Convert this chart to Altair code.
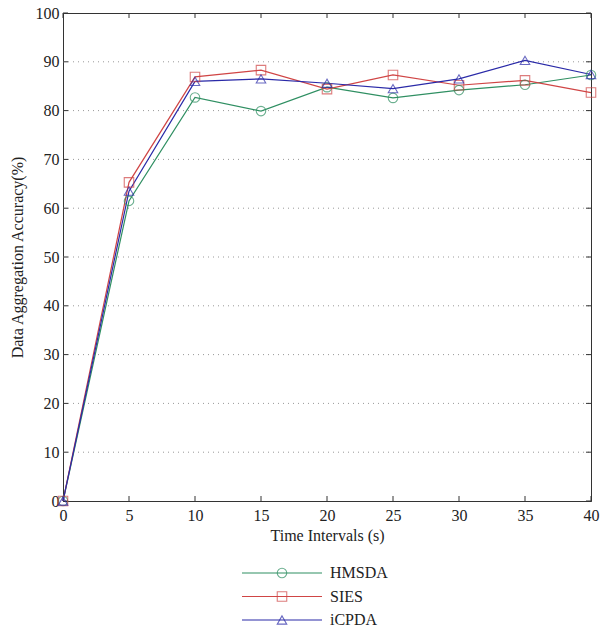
import altair as alt
import pandas as pd

x_vals = [0, 5, 10, 15, 20, 25, 30, 35, 40]
hmsda = [0, 61.5, 82.7, 79.9, 84.8, 82.6, 84.2, 85.3, 87.3]
sies = [0, 65.3, 86.9, 88.3, 84.4, 87.3, 85.2, 86.2, 83.7]
icpda = [0, 63.5, 86.0, 86.5, 85.6, 84.5, 86.5, 90.3, 87.4]
series = ["HMSDA", "SIES", "iCPDA"]
colors = ["#2f8f62", "#d04545", "#2a2aa8"]
shapes = ["circle", "square", "triangle-up"]
x_ticks = [0, 5, 10, 15, 20, 25, 30, 35, 40]
y_ticks = [0, 10, 20, 30, 40, 50, 60, 70, 80, 90, 100]
y_grid = [10, 20, 30, 40, 50, 60, 70, 80, 90]

rows = []
for name, vals in zip(series, [hmsda, sies, icpda]):
    for xv, yv in zip(x_vals, vals):
        rows.append({"t": xv, "acc": yv, "series": name})
df = pd.DataFrame(rows)

W, H = 528, 488
FONT = "Liberation Serif"

xs = alt.Scale(domain=[0, 40], nice=False)
ys = alt.Scale(domain=[0, 100], nice=False)
color = alt.Color("series:N", scale=alt.Scale(domain=series, range=colors), legend=None)
shape = alt.Shape("series:N", scale=alt.Scale(domain=series, range=shapes), legend=None)

xaxis = alt.Axis(values=x_ticks, grid=False, ticks=False, labelFontSize=16, labelFont=FONT,
                 titleFont=FONT, titleFontSize=16, titleFontWeight="normal", labelColor="#222",
                 titleColor="#222", domainColor="#333", labelPadding=6, titlePadding=4,
                 labelFlush=False)
yaxis = alt.Axis(values=y_ticks, grid=False, ticks=False, labelFontSize=16, labelFont=FONT,
                 titleFont=FONT, titleFontSize=16, titleFontWeight="normal", labelColor="#222",
                 titleColor="#222", domainColor="#333", labelPadding=4, titlePadding=10,
                 labelFlush=False)

grid_df = pd.DataFrame({"g": y_grid})
grid = alt.Chart(grid_df).mark_rule(color="#999", strokeDash=[1, 4], strokeWidth=1).encode(
    y=alt.Y("g:Q", scale=ys), x=alt.value(0), x2=alt.value(W))

xt = pd.DataFrame({"v": x_ticks})
yt = pd.DataFrame({"v": y_ticks})
tk = dict(color="#333", strokeWidth=1)
xt_bot = alt.Chart(xt).mark_rule(**tk).encode(x=alt.X("v:Q", scale=xs), y=alt.value(H), y2=alt.value(H - 5))
xt_top = alt.Chart(xt).mark_rule(**tk).encode(x=alt.X("v:Q", scale=xs), y=alt.value(0), y2=alt.value(5))
yt_l = alt.Chart(yt).mark_rule(**tk).encode(y=alt.Y("v:Q", scale=ys), x=alt.value(0), x2=alt.value(5))
yt_r = alt.Chart(yt).mark_rule(**tk).encode(y=alt.Y("v:Q", scale=ys), x=alt.value(W), x2=alt.value(W - 5))

base = alt.Chart(df).encode(
    x=alt.X("t:Q", scale=xs, axis=xaxis, title="Time Intervals (s)"),
    y=alt.Y("acc:Q", scale=ys, axis=yaxis, title="Data Aggregation Accuracy(%)"),
    color=color,
)
lines = base.mark_line(strokeWidth=1.2)
pts = base.mark_point(filled=False, size=90, strokeWidth=1.1).encode(shape=shape)

main = alt.layer(grid, xt_bot, xt_top, yt_l, yt_r, lines, pts).properties(width=W, height=H)

leg_df = pd.DataFrame({"series": series, "idx": [0, 1, 2]})
ly = alt.Y("idx:Q", scale=alt.Scale(domain=[0, 2], range=[15, 62]), axis=None)
lcolor = alt.Color("series:N", scale=alt.Scale(domain=series, range=colors), legend=None)
leg_line = alt.Chart(leg_df).mark_rule(strokeWidth=1.2).encode(
    y=ly, x=alt.value(179), x2=alt.value(259), color=lcolor)
leg_pt = alt.Chart(leg_df).mark_point(filled=False, size=90, strokeWidth=1.1).encode(
    y=ly, x=alt.value(219), color=lcolor,
    shape=alt.Shape("series:N", scale=alt.Scale(domain=series, range=shapes), legend=None))
leg_txt = alt.Chart(leg_df).mark_text(align="left", baseline="middle", font=FONT, fontSize=16,
                                      color="#222").encode(
    y=ly, x=alt.value(267), text="series:N")
legend = alt.layer(leg_line, leg_pt, leg_txt).properties(
    width=W, height=68, view=alt.ViewBackground(stroke=None))

chart = alt.vconcat(main, legend, spacing=14).configure_view(
    stroke="#333", strokeWidth=1
).properties(padding={"left": 8, "top": 4, "right": 0, "bottom": 2}, background="white")

chart.save("out.html", embed_options={"renderer": "svg", "actions": False})
